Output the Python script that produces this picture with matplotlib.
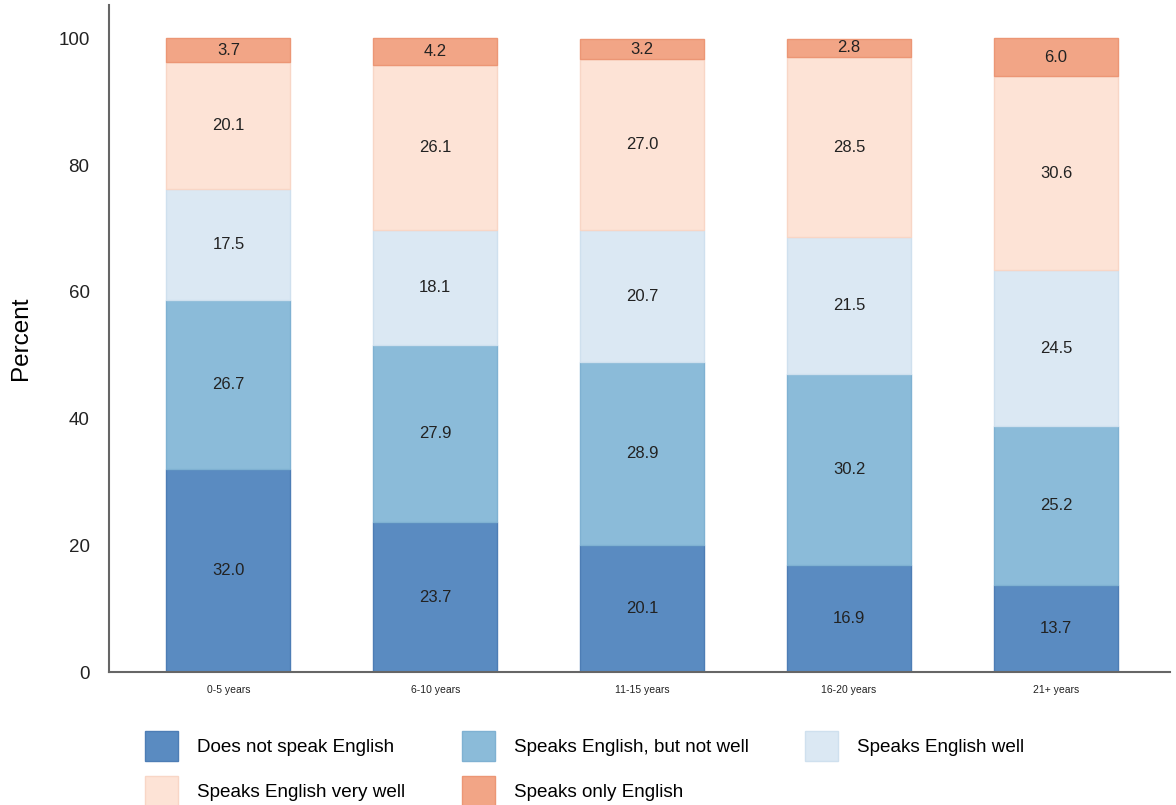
import matplotlib.pyplot as plt
import numpy as np

plt.rcParams['font.family'] = ['Liberation Sans', 'DejaVu Sans']

# English-speaking ability by years in the US
periods = ["0-5 years", "6-10 years", "11-15 years", "16-20 years", "21+ years"]
does_not_speak = [32.0, 23.7, 20.1, 16.9, 13.7]
not_well = [26.7, 27.9, 28.9, 30.2, 25.2]
well = [17.5, 18.1, 20.7, 21.5, 24.5]
very_well = [20.1, 26.1, 27.0, 28.5, 30.6]
only_english = [3.7, 4.2, 3.2, 2.8, 6.0]

series = [
    ("Does not speak English", does_not_speak, "#5a8bc1", "#4d7db5"),
    ("Speaks English, but not well", not_well, "#8bbbd9", "#7fb1d2"),
    ("Speaks English well", well, "#dbe8f3", "#cfe0ee"),
    ("Speaks English very well", very_well, "#fde3d6", "#f8d6c6"),
    ("Speaks only English", only_english, "#f2a586", "#ec9675"),
]

fig = plt.figure(figsize=(11.76, 8.05), dpi=100)
ax = fig.add_axes([0.0927, 0.165, 0.902, 0.829])

x = np.arange(len(periods))
bottom = np.zeros(len(periods))
handles = []
for name, vals, color, edge in series:
    vals = np.array(vals)
    bars = ax.bar(x, vals, width=0.6, bottom=bottom, color=color,
                  edgecolor=edge, linewidth=1, label=name)
    handles.append(bars)
    for xi, b, v in zip(x, bottom, vals):
        ax.text(xi, b + v / 2, f"{v:.1f}", ha="center", va="center",
                fontsize=12, color="#222222")
    bottom += vals

ax.set_xlim(-0.577, 4.55)
ax.set_ylim(0, 105.3)
ax.set_yticks([0, 20, 40, 60, 80, 100])
ax.set_xticks(x)
ax.set_xticklabels(periods, fontsize=7.5)
ax.tick_params(axis="both", length=0, colors="#222222")
ax.tick_params(axis="y", labelsize=13.5, pad=14)
ax.tick_params(axis="x", pad=9)
ax.set_ylabel("Percent", fontsize=17.5, labelpad=19)

for side in ["top", "right"]:
    ax.spines[side].set_visible(False)
for side in ["left", "bottom"]:
    ax.spines[side].set_color("#666666")
    ax.spines[side].set_linewidth(1.5)

# legend fills column by column, so reorder to read row by row
order = [0, 3, 1, 4, 2]
fig.legend(handles=[handles[i] for i in order],
           labels=[series[i][0] for i in order],
           loc="upper left", bbox_to_anchor=(0.1233, 0.0919),
           ncol=3, frameon=False, fontsize=13.6, borderpad=0,
           borderaxespad=0, handlelength=1.75, handleheight=2.1,
           handletextpad=1.0, columnspacing=3.0, labelspacing=0.75)

fig.savefig("out.png", dpi=100)
